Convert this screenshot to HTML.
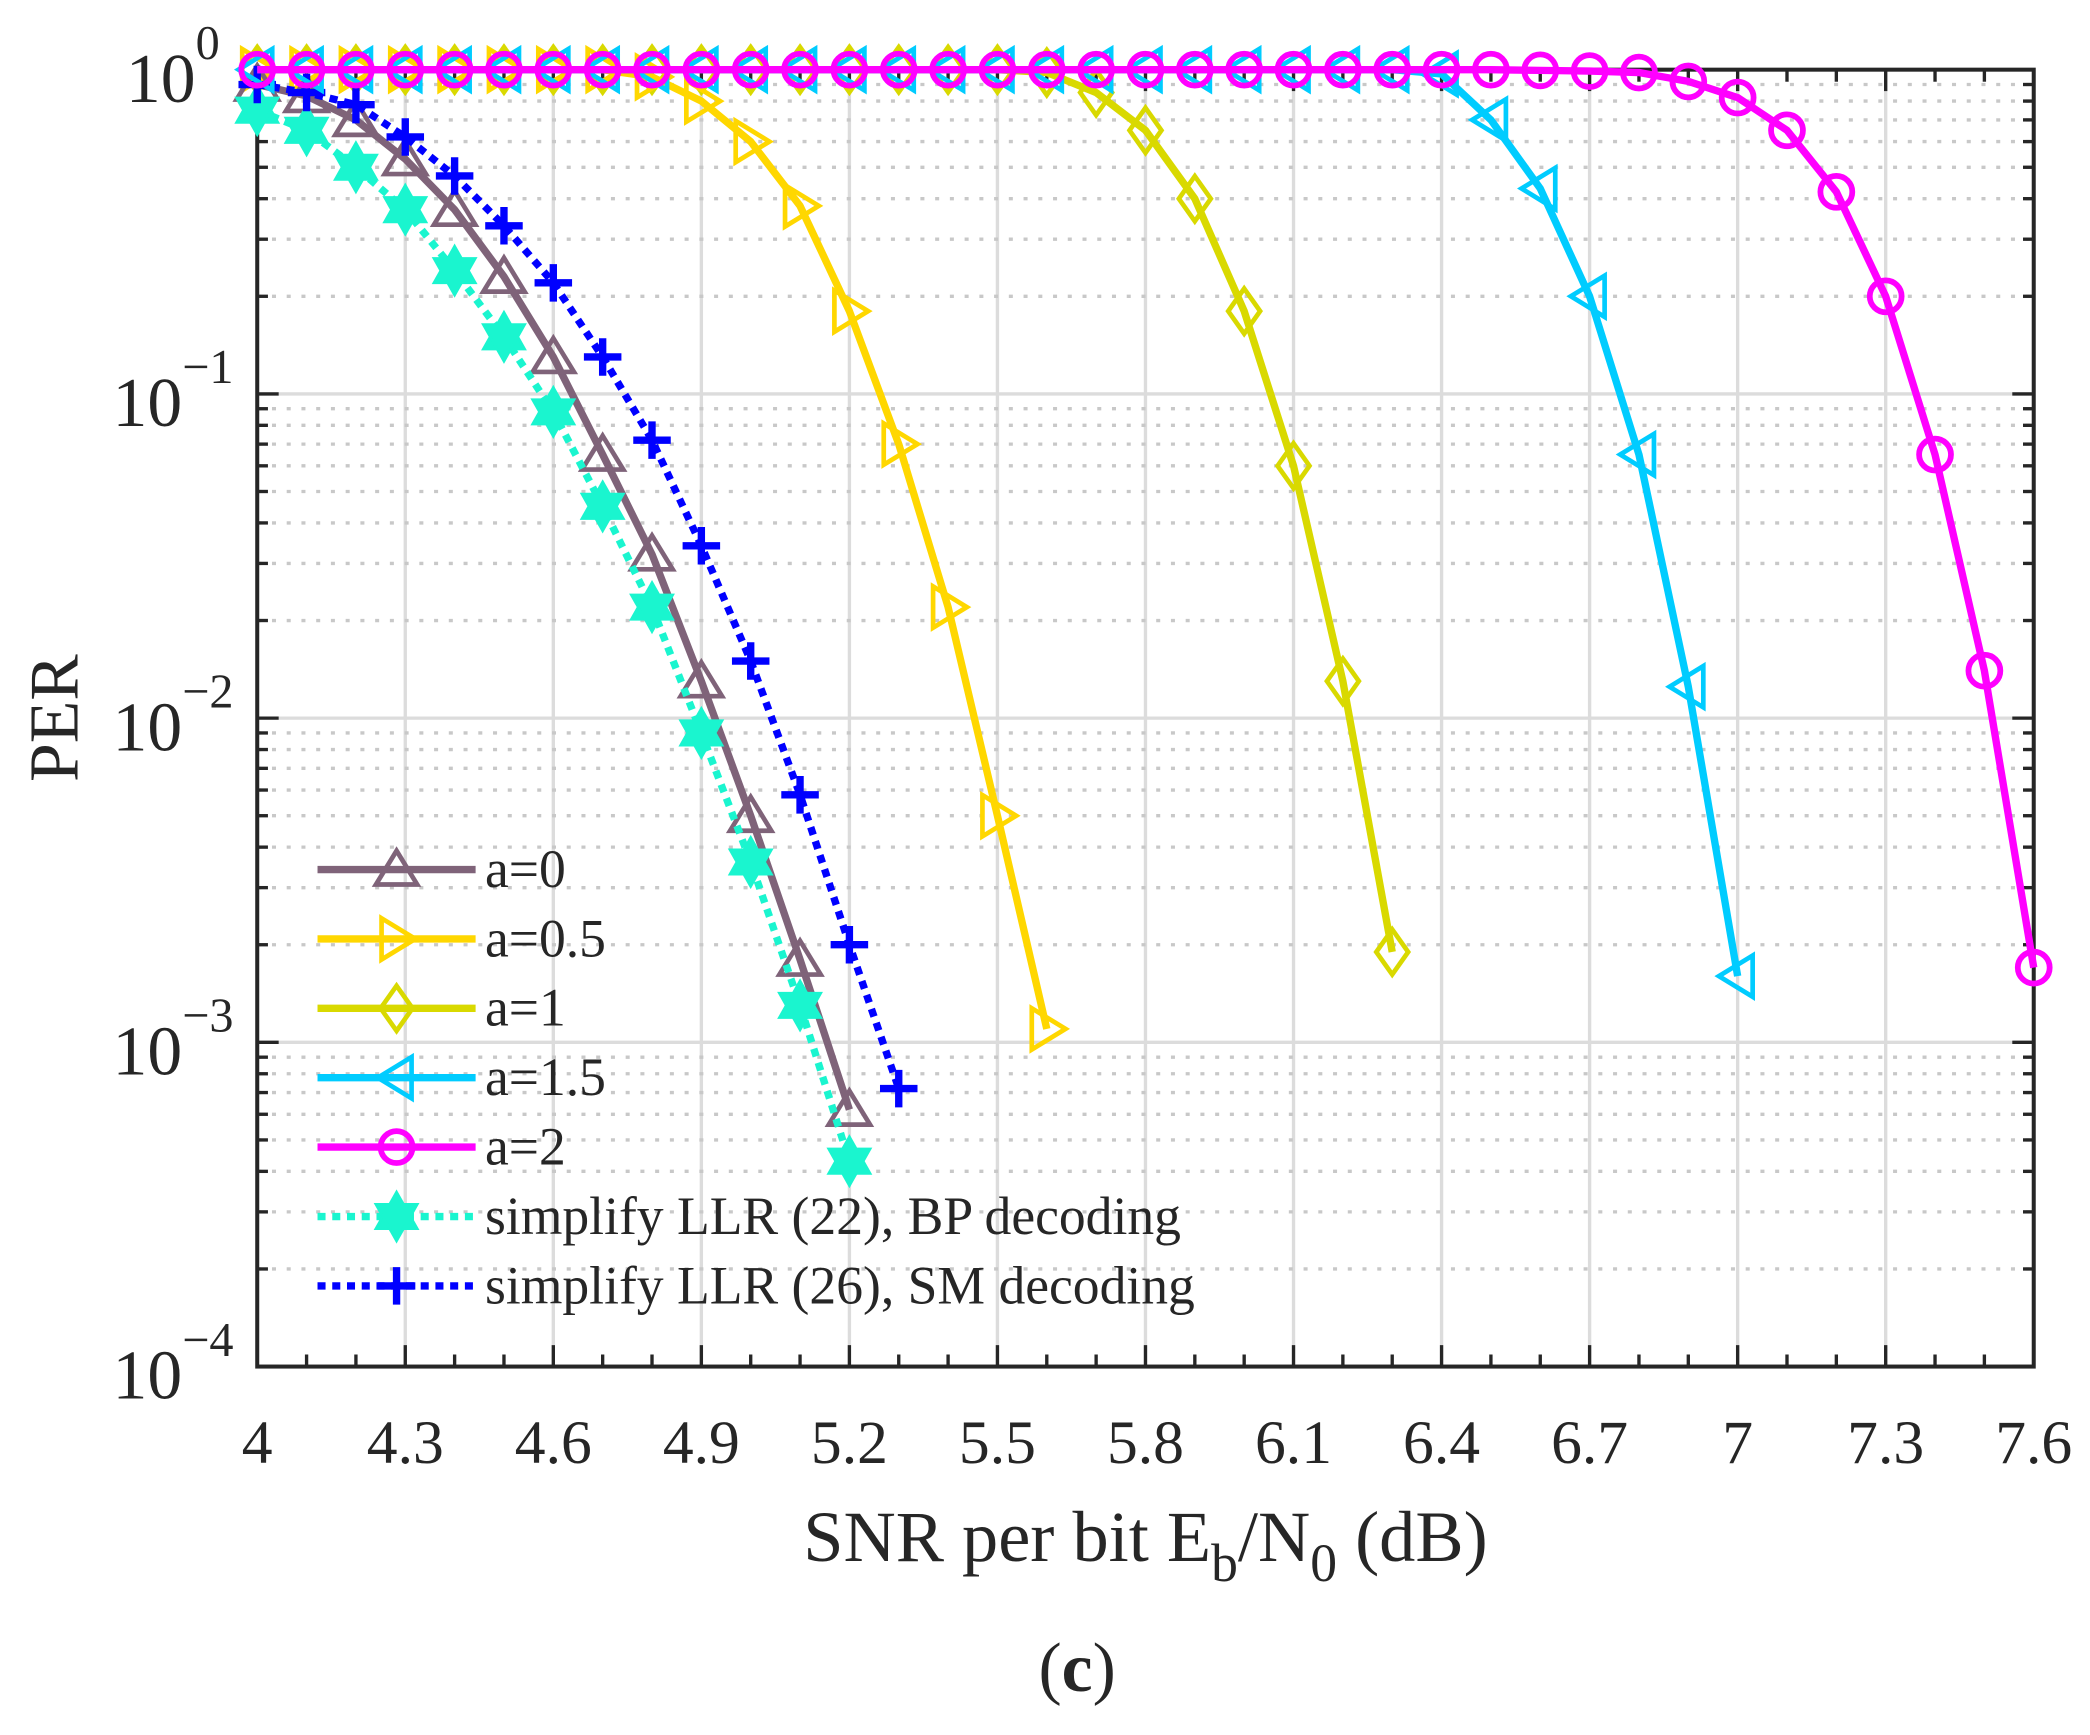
<!DOCTYPE html>
<html><head><meta charset="utf-8"><style>
html,body{margin:0;padding:0;background:#fff;}
svg{display:block;}
text{font-family:"Liberation Serif",serif;fill:#262626;}
</style></head><body>
<svg id="chart" width="2090" height="1735" viewBox="0 0 1560 1295" preserveAspectRatio="none" xmlns="http://www.w3.org/2000/svg">
<g id="grid"></g>
<g id="axes"></g>
<g id="series"></g>
<g id="legend"></g>
<text x="0" y="0" font-size="52" text-anchor="middle" transform="translate(58,536) rotate(-90)">PER</text>
<text x="855" y="1165" font-size="54" text-anchor="middle">SNR per bit E<tspan font-size="40" dy="15">b</tspan><tspan dy="-15">/N</tspan><tspan font-size="40" dy="15">0</tspan><tspan dy="-15"> (dB)</tspan></text>
<text x="804" y="1262" font-size="52" text-anchor="middle">(<tspan font-weight="bold">c</tspan>)</text>
</svg>
<script>
const xTicks=[4,4.3,4.6,4.9,5.2,5.5,5.8,6.1,6.4,6.7,7,7.3,7.6];
const xTickLabels=["4","4.3","4.6","4.9","5.2","5.5","5.8","6.1","6.4","6.7","7","7.3","7.6"];
const yDecades=[0,-1,-2,-3,-4];
const xA0=[4,4.1,4.2,4.3,4.4,4.5,4.6,4.7,4.8,4.9,5.0,5.1,5.2];
const yA0=[0.9,0.83,0.7,0.53,0.37,0.23,0.13,0.065,0.032,0.013,0.005,0.0018,0.00062];
const xA05=[4,4.1,4.2,4.3,4.4,4.5,4.6,4.7,4.8,4.9,5.0,5.1,5.2,5.3,5.4,5.5,5.6];
const yA05=[1,1,1,1,1,1,1,1,0.95,0.8,0.6,0.38,0.18,0.07,0.022,0.005,0.0011];
const xA1=[4,4.1,4.2,4.3,4.4,4.5,4.6,4.7,4.8,4.9,5.0,5.1,5.2,5.3,5.4,5.5,5.6,5.7,5.8,5.9,6.0,6.1,6.2,6.3];
const yA1=[1,1,1,1,1,1,1,1,1,1,1,1,1,1,1,1,0.98,0.85,0.65,0.4,0.18,0.06,0.013,0.0019];
const xA15=[4,4.1,4.2,4.3,4.4,4.5,4.6,4.7,4.8,4.9,5.0,5.1,5.2,5.3,5.4,5.5,5.6,5.7,5.8,5.9,6.0,6.1,6.2,6.3,6.4,6.5,6.6,6.7,6.8,6.9,7.0];
const yA15=[1,1,1,1,1,1,1,1,1,1,1,1,1,1,1,1,1,1,1,1,1,1,1,1,0.97,0.7,0.43,0.2,0.065,0.0125,0.0016];
const xA2=[4,4.1,4.2,4.3,4.4,4.5,4.6,4.7,4.8,4.9,5.0,5.1,5.2,5.3,5.4,5.5,5.6,5.7,5.8,5.9,6.0,6.1,6.2,6.3,6.4,6.5,6.6,6.7,6.8,6.9,7.0,7.1,7.2,7.3,7.4,7.5,7.6];
const yA2=[1,1,1,1,1,1,1,1,1,1,1,1,1,1,1,1,1,1,1,1,1,1,1,1,1,1,0.995,0.99,0.98,0.92,0.82,0.65,0.42,0.2,0.065,0.014,0.0017];
const xBP=[4,4.1,4.2,4.3,4.4,4.5,4.6,4.7,4.8,4.9,5.0,5.1,5.2];
const yBP=[0.75,0.65,0.5,0.37,0.24,0.15,0.088,0.045,0.022,0.009,0.0036,0.0013,0.00043];
const xSM=[4,4.1,4.2,4.3,4.4,4.5,4.6,4.7,4.8,4.9,5.0,5.1,5.2,5.3];
const ySM=[0.9,0.85,0.78,0.62,0.47,0.33,0.22,0.13,0.072,0.034,0.015,0.0058,0.002,0.00072];
const legendLabels=["a=0","a=0.5","a=1","a=1.5","a=2","simplify LLR (22), BP decoding","simplify LLR (26), SM decoding"];

const NS="http://www.w3.org/2000/svg";
const L=192,R=1518,T=52,B=1020;
const sx=v=>L+(v-4)/(7.6-4)*(R-L);
const sy=v=>T+(-Math.log10(v))/4*(B-T);
function mk(p,tag,at){const e=document.createElementNS(NS,tag);for(const k in at)e.setAttribute(k,at[k]);p.appendChild(e);return e;}
const grid=document.getElementById('grid'),axes=document.getElementById('axes'),ser=document.getElementById('series'),leg=document.getElementById('legend');
xTicks.forEach(v=>{const e=mk(grid,'line',{x1:sx(v),x2:sx(v),y1:T,y2:B,stroke:'#dcdcdc','stroke-width':2.5});

});
yDecades.forEach(d=>{const e=mk(grid,'line',{x1:L,x2:R,y1:sy(Math.pow(10,d)),y2:sy(Math.pow(10,d)),stroke:'#dcdcdc','stroke-width':2.5});


if(d>-4){for(let m=2;m<=9;m++){const y=sy(m*Math.pow(10,d-1));const g=mk(grid,'line',{x1:L,x2:R,y1:y,y2:y,stroke:'#c8c8c8','stroke-width':2.5,'stroke-dasharray':'3 8'});


mk(axes,'line',{x1:L,x2:L+8,y1:y,y2:y,stroke:'#262626','stroke-width':2.5});mk(axes,'line',{x1:R,x2:R-8,y1:y,y2:y,stroke:'#262626','stroke-width':2.5});}}
});
const box=mk(axes,'rect',{x:L,y:T,width:R-L,height:B-T,fill:'none',stroke:'#262626','stroke-width':3});


for(let i=0;i<=36;i++){const v=4+i*0.1;const major=(i%3===0);const len=major?16:9;
mk(axes,'line',{x1:sx(v),x2:sx(v),y1:B,y2:B-len,stroke:'#262626','stroke-width':2.5});
mk(axes,'line',{x1:sx(v),x2:sx(v),y1:T,y2:T+len,stroke:'#262626','stroke-width':2.5});}
xTicks.forEach((v,i)=>{const t=mk(axes,'text',{x:sx(v),y:1092,'font-size':46,'text-anchor':'middle'});t.textContent=xTickLabels[i];

});
yDecades.forEach(d=>{const y=sy(Math.pow(10,d));
mk(axes,'line',{x1:L,x2:L+16,y1:y,y2:y,stroke:'#262626','stroke-width':2.5});mk(axes,'line',{x1:R,x2:R-16,y1:y,y2:y,stroke:'#262626','stroke-width':2.5});
const t=mk(axes,'text',{x:d===0?146:136,y:y+24,'font-size':52,'text-anchor':'end'});t.textContent='10';


const s=mk(axes,'text',{x:d===0?146:136,y:y-8,'font-size':36,'text-anchor':'start'});s.textContent=d===0?'0':'\u2212'+(-d);

});
function marker(p,type,x,y,c){const r=14,sw=3.5;
if(type==='tu')return mk(p,'polygon',{points:`${x},${y-r} ${x+r*1.1},${y+r*0.8} ${x-r*1.1},${y+r*0.8}`,fill:'none',stroke:c,'stroke-width':sw});
if(type==='tr')return mk(p,'polygon',{points:`${x+r},${y} ${x-r*0.8},${y-r*1.1} ${x-r*0.8},${y+r*1.1}`,fill:'none',stroke:c,'stroke-width':sw});
if(type==='tl')return mk(p,'polygon',{points:`${x-r},${y} ${x+r*0.8},${y-r*1.1} ${x+r*0.8},${y+r*1.1}`,fill:'none',stroke:c,'stroke-width':sw});
if(type==='d')return mk(p,'polygon',{points:`${x},${y-r*1.2} ${x+r*0.85},${y} ${x},${y+r*1.2} ${x-r*0.85},${y}`,fill:'none',stroke:c,'stroke-width':sw});
if(type==='o')return mk(p,'circle',{cx:x,cy:y,r:r*0.85,fill:'none',stroke:c,'stroke-width':sw+0.8});
if(type==='h'){const g=mk(p,'g',{});mk(g,'polygon',{points:`${x},${y-r*1.3} ${x+r*1.1},${y+r*0.65} ${x-r*1.1},${y+r*0.65}`,fill:c,stroke:c,'stroke-width':2});mk(g,'polygon',{points:`${x},${y+r*1.3} ${x+r*1.1},${y-r*0.65} ${x-r*1.1},${y-r*0.65}`,fill:c,stroke:c,'stroke-width':2});return g;}
if(type==='p'){const g=mk(p,'g',{});mk(g,'line',{x1:x-r,x2:x+r,y1:y,y2:y,stroke:c,'stroke-width':5.5});mk(g,'line',{x1:x,x2:x,y1:y-r,y2:y+r,stroke:c,'stroke-width':5.5});return g;}}
const defs=[
 {xs:xA0,ys:yA0,c:'#7f6379',m:'tu',dash:null,n:'a0'},
 {xs:xA05,ys:yA05,c:'#FFD700',m:'tr',dash:null,n:'a0-5'},
 {xs:xA1,ys:yA1,c:'#D9D900',m:'d',dash:null,n:'a1'},
 {xs:xA15,ys:yA15,c:'#00CCFF',m:'tl',dash:null,n:'a1-5'},
 {xs:xA2,ys:yA2,c:'#FF00FF',m:'o',dash:null,n:'a2'},
 {xs:xBP,ys:yBP,c:'#1AF5CF',m:'h',dash:'6 5',n:'bp-decoding'},
 {xs:xSM,ys:ySM,c:'#0000FF',m:'p',dash:'6 5',n:'sm-decoding'}];
const order=[2,1,0,5,6,3,4];
order.forEach(i=>{const s=defs[i];const g=mk(ser,'g',{});


const pts=s.xs.map((x,k)=>sx(x)+','+sy(s.ys[k])).join(' ');
const at={points:pts,fill:'none',stroke:s.c,'stroke-width':5.5,'stroke-linejoin':'round'};if(s.dash)at['stroke-dasharray']=s.dash;
const pl=mk(g,'polyline',at);


s.xs.forEach((x,k)=>{const e=marker(g,s.m,sx(x),sy(s.ys[k]),s.c);

});});
defs.forEach((s,i)=>{const y=649+i*51.8;const g=mk(leg,'g',{});


const at={x1:237,x2:355,y1:y,y2:y,stroke:s.c,'stroke-width':5.5};if(s.dash)at['stroke-dasharray']=s.dash;mk(g,'line',at);
marker(g,s.m,296,y,s.c);
const t=mk(g,'text',{x:362,y:y+13,'font-size':40,fill:'#000'});t.textContent=legendLabels[i];});
</script>
</body></html>
